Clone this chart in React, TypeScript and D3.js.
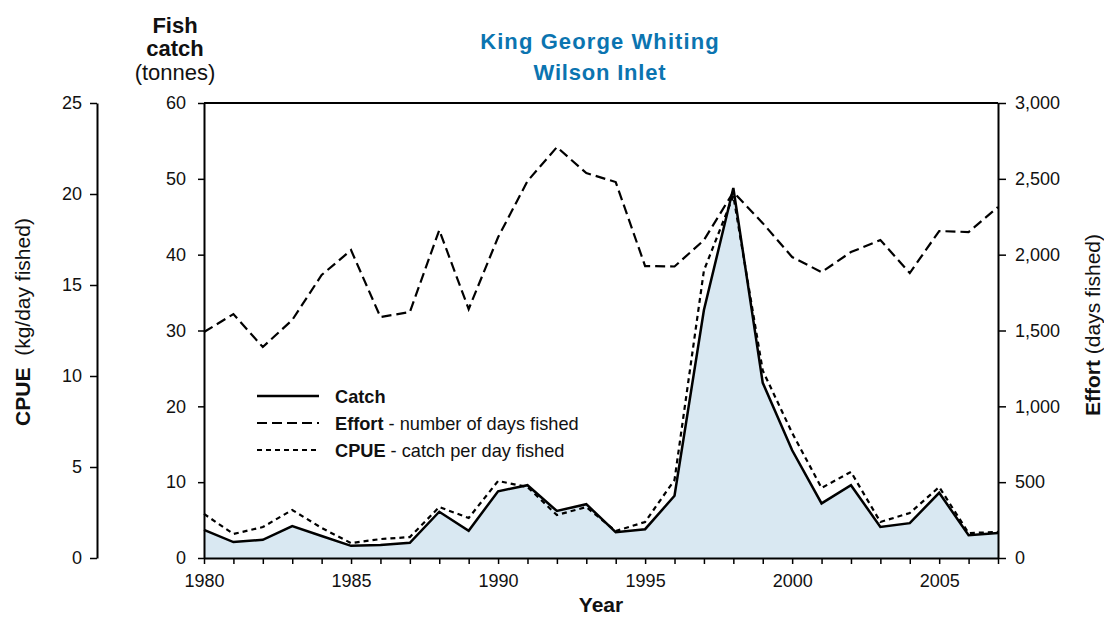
import { useRef, useEffect } from "react";
import * as d3 from "d3";

// Wilson Inlet King George Whiting, 1980-2007
const years = d3.range(1980, 2008);

const catchTonnes = [
  3.7, 2.1, 2.4, 4.2, 2.9, 1.6, 1.7, 2.0, 6.1, 3.6,
  8.8, 9.6, 6.2, 7.1, 3.4, 3.8, 8.2, 32.7, 48.8, 23.1,
  14.2, 7.2, 9.6, 4.1, 4.6, 8.6, 3.0, 3.3,
];

const effortDays = [
  1490, 1608, 1391, 1569, 1866, 2030, 1589, 1622, 2162, 1641,
  2115, 2485, 2709, 2538, 2479, 1925, 1922, 2096, 2413, 2208,
  1984, 1885, 2017, 2096, 1879, 2156, 2149, 2314,
];

const cpue = [
  2.42, 1.32, 1.7, 2.64, 1.65, 0.82, 1.04, 1.15, 2.8, 2.2,
  4.23, 3.9, 2.36, 2.8, 1.48, 1.98, 4.29, 15.8, 19.9, 10.3,
  6.87, 3.85, 4.73, 1.98, 2.47, 3.9, 1.37, 1.43,
];

const yearTickLabels = [1980, 1985, 1990, 1995, 2000, 2005];
const catchTicks = [0, 10, 20, 30, 40, 50, 60];
const cpueTicks = [0, 5, 10, 15, 20, 25];
const effortTicks = [0, 500, 1000, 1500, 2000, 2500, 3000];

const legendItems = [
  { bold: "Catch", rest: "", dash: "none", width: 2.5 },
  { bold: "Effort", rest: " - number of days fished", dash: "10,5", width: 2.2 },
  { bold: "CPUE", rest: " - catch per day fished", dash: "5,4", width: 2.2 },
];

const W = 1104;
const H = 617;
const FONT = "'Liberation Sans', Arial, Helvetica, sans-serif";
const TITLE_BLUE = "#0b74b0";

export default function App() {
  const svgRef = useRef<SVGSVGElement>(null);

  useEffect(() => {
    document.body.style.margin = "0";
    if (!svgRef.current) return;
    const svg = d3.select(svgRef.current);
    svg.selectAll("*").remove();
    svg.attr("width", W).attr("height", H).style("font-family", FONT);

    const left = 204, right = 998, top = 103, bottom = 558;
    const cpueAxisX = 97;

    const x = d3.scaleLinear().domain([1980, 2007]).range([left, right]);
    const yCatch = d3.scaleLinear().domain([0, 60]).range([bottom, top]);
    const yCpue = d3.scaleLinear().domain([0, 25]).range([bottom, top]);
    const yEffort = d3.scaleLinear().domain([0, 3000]).range([bottom, top]);

    const idx = years.map((_, i) => i);

    // Area under the catch curve
    const area = d3.area<number>()
      .x(i => x(years[i]))
      .y0(bottom)
      .y1(i => yCatch(catchTonnes[i]));
    svg.append("path").datum(idx).attr("fill", "#d9e8f2").attr("d", area);

    const lineOf = (vals: number[], y: d3.ScaleLinear<number, number>) =>
      d3.line<number>().x(i => x(years[i])).y(i => y(vals[i]));

    // Effort
    svg.append("path").datum(idx)
      .attr("fill", "none").attr("stroke", "#000").attr("stroke-width", 2.2)
      .attr("stroke-dasharray", "10,5")
      .attr("d", lineOf(effortDays, yEffort));

    // CPUE
    svg.append("path").datum(idx)
      .attr("fill", "none").attr("stroke", "#000").attr("stroke-width", 2.2)
      .attr("stroke-dasharray", "5,4")
      .attr("d", lineOf(cpue, yCpue));

    // Catch
    svg.append("path").datum(idx)
      .attr("fill", "none").attr("stroke", "#000").attr("stroke-width", 2.5)
      .attr("stroke-linejoin", "miter")
      .attr("d", lineOf(catchTonnes, yCatch));

    // Frame top
    svg.append("line")
      .attr("x1", left).attr("x2", right).attr("y1", top).attr("y2", top)
      .attr("stroke", "#000").attr("stroke-width", 2);

    const styleAxis = (g: d3.Selection<SVGGElement, unknown, null, undefined>) => {
      g.select(".domain").attr("stroke", "#000").attr("stroke-width", 2);
      g.selectAll(".tick line").attr("stroke", "#000").attr("stroke-width", 1.5);
      g.selectAll(".tick text")
        .attr("fill", "#111").attr("font-size", "18px").attr("font-family", FONT);
    };

    // Bottom axis: ticks every year, labels every five
    svg.append("g")
      .attr("transform", `translate(0,${bottom})`)
      .call(d3.axisBottom(x).tickValues(years).tickSize(6).tickPadding(10).tickSizeOuter(0)
        .tickFormat(d => (yearTickLabels.includes(+d) ? String(d) : "")))
      .call(styleAxis);

    // Catch axis (left of plot)
    svg.append("g")
      .attr("transform", `translate(${left},0)`)
      .call(d3.axisLeft(yCatch).tickValues(catchTicks).tickSize(6).tickPadding(12).tickSizeOuter(0))
      .call(styleAxis);

    // CPUE axis (far left)
    svg.append("g")
      .attr("transform", `translate(${cpueAxisX},0)`)
      .call(d3.axisLeft(yCpue).tickValues(cpueTicks).tickSize(7).tickPadding(8).tickSizeOuter(0))
      .call(styleAxis);

    // Effort axis (right)
    svg.append("g")
      .attr("transform", `translate(${right},0)`)
      .call(d3.axisRight(yEffort).tickValues(effortTicks).tickSize(8).tickPadding(9).tickSizeOuter(0)
        .tickFormat(d3.format(",")))
      .call(styleAxis);

    // Titles
    svg.append("text")
      .attr("x", 600).attr("y", 49).attr("text-anchor", "middle")
      .attr("fill", TITLE_BLUE).attr("font-size", "22px").attr("font-weight", "bold")
      .attr("letter-spacing", "1.1px")
      .text("King George Whiting");
    svg.append("text")
      .attr("x", 600).attr("y", 80).attr("text-anchor", "middle")
      .attr("fill", TITLE_BLUE).attr("font-size", "22px").attr("font-weight", "bold")
      .attr("letter-spacing", "0.8px")
      .text("Wilson Inlet");

    // Catch axis title
    const fc = svg.append("text").attr("text-anchor", "middle").attr("fill", "#111").attr("font-size", "22px");
    fc.append("tspan").attr("x", 175).attr("y", 33).attr("font-weight", "bold").text("Fish");
    fc.append("tspan").attr("x", 175).attr("y", 56).attr("font-weight", "bold").text("catch");
    fc.append("tspan").attr("x", 175).attr("y", 80).text("(tonnes)");

    // Year label
    svg.append("text")
      .attr("x", 601).attr("y", 612).attr("text-anchor", "middle")
      .attr("fill", "#111").attr("font-size", "21px").attr("font-weight", "bold")
      .text("Year");

    // CPUE axis title
    const ct = svg.append("text")
      .attr("transform", "translate(30,322) rotate(-90)")
      .attr("text-anchor", "middle").attr("fill", "#111").attr("font-size", "21px");
    ct.append("tspan").attr("font-weight", "bold").text("CPUE");
    ct.append("tspan").attr("xml:space", "preserve").text("  (kg/day fished)");

    // Effort axis title
    const et = svg.append("text")
      .attr("transform", "translate(1100,325) rotate(-90)")
      .attr("text-anchor", "middle").attr("fill", "#111").attr("font-size", "21px");
    et.append("tspan").attr("font-weight", "bold").text("Effort");
    et.append("tspan").text(" (days fished)");

    // Legend
    const legend = svg.append("g").attr("transform", "translate(257,396)");
    legendItems.forEach((item, i) => {
      const ly = i * 27;
      legend.append("line")
        .attr("x1", 0).attr("x2", 62).attr("y1", ly).attr("y2", ly)
        .attr("stroke", "#000").attr("stroke-width", item.width)
        .attr("stroke-dasharray", item.dash);
      const t = legend.append("text")
        .attr("x", 78).attr("y", ly + 6.5)
        .attr("fill", "#111").attr("font-size", "18.2px");
      t.append("tspan").attr("font-weight", "bold").text(item.bold);
      if (item.rest) t.append("tspan").text(item.rest);
    });
  }, []);

  return <svg ref={svgRef} width={W} height={H} style={{ display: "block" }} />;
}
